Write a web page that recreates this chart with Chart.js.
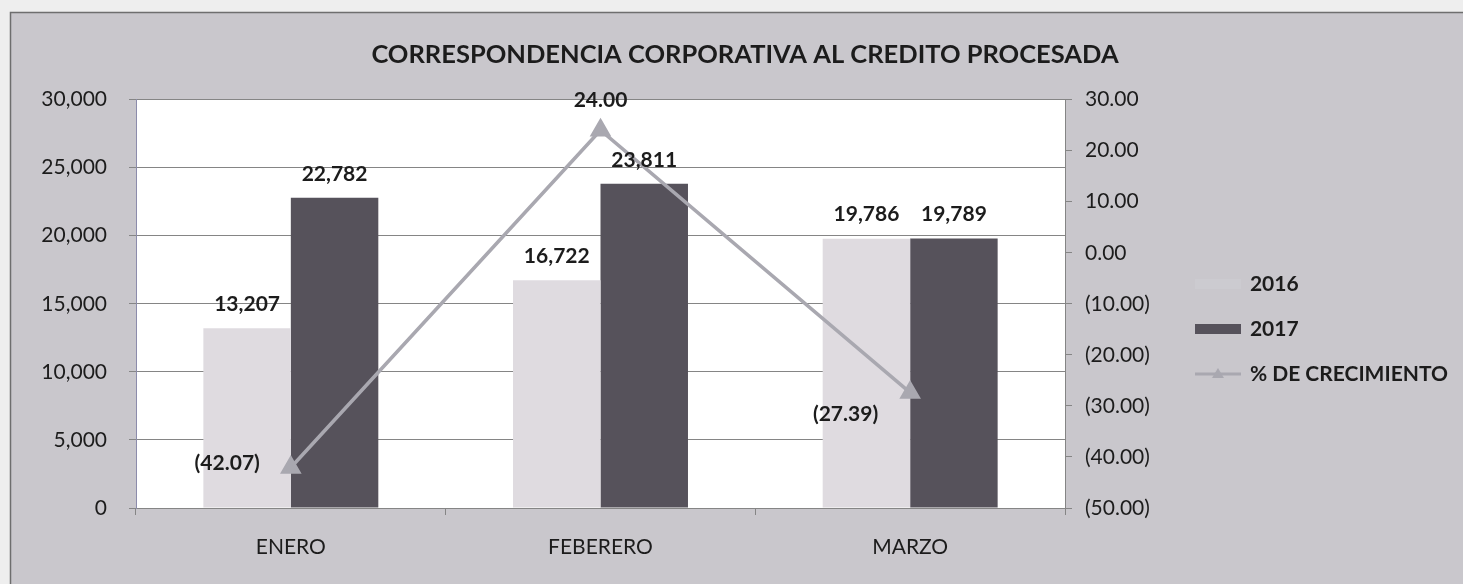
<!DOCTYPE html>
<html>
<head>
<meta charset="utf-8">
<title>Correspondencia corporativa al credito procesada</title>
<script src="https://cdn.jsdelivr.net/npm/chart.js@4.4.1/dist/chart.umd.min.js"></script>
<style>
    html, body { margin: 0; padding: 0; background: #f0f0f0; }
    #chart { display: block; }
</style>
</head>
<body>
<canvas id="chart" width="1463" height="584"></canvas>
<script>
// Chart data
const categories = ['ENERO', 'FEBERERO', 'MARZO'];
const seriesNames = ['2016', '2017', '% DE CRECIMIENTO'];
const values2016 = [13207, 16722, 19786];
const values2017 = [22782, 23811, 19789];
const growthPct = [-42.07, 24.00, -27.39];
const chartTitle = 'CORRESPONDENCIA CORPORATIVA AL CREDITO PROCESADA';

// Colours
const color2016 = '#dfdbe0';
const color2017 = '#56525b';
const colorLine = '#a9a8b0';
const gridColor = '#858585';
const textColor = '#1c1c1c';
const FONT = 'Lato';

// right edge of the plot area (where the % axis sits)
const PLOT_RIGHT = 1065;
const PAD_RIGHT = 5;
const PAD_LEFT = 32;

// where each growth label sits relative to its point
const growthLabelPos = ['left', 'above', 'leftBelow'];

function fmtThousands(v) {
    return Number(v).toLocaleString('en-US');
}

function fmtPct(v) {
    const s = Math.abs(v).toFixed(2);
    return v < 0 ? '(' + s + ')' : s;
}

// Legend swatches drawn on small canvases
function makeSwatch(kind) {
    const c = document.createElement('canvas');
    c.width = 46;
    c.height = 18;
    const g = c.getContext('2d');
    if (kind === 'bar2016') {
        g.fillStyle = 'rgba(222, 218, 226, 0.2)';
        g.fillRect(0, 4, 46, 10);
    } else if (kind === 'bar2017') {
        g.fillStyle = color2017;
        g.fillRect(0, 4, 46, 10);
    } else {
        g.strokeStyle = colorLine;
        g.lineWidth = 3;
        g.beginPath();
        g.moveTo(0, 9);
        g.lineTo(46, 9);
        g.stroke();
        g.fillStyle = colorLine;
        g.beginPath();
        g.moveTo(23, 3);
        g.lineTo(29, 13);
        g.lineTo(17, 13);
        g.closePath();
        g.fill();
    }
    return c;
}

const swatches = [makeSwatch('bar2016'), makeSwatch('bar2017'), makeSwatch('line')];

// Background, frame and white plot area
const backdrop = {
    id: 'backdrop',
    beforeDraw(chart) {
        const { ctx, chartArea } = chart;
        ctx.save();
        ctx.fillStyle = '#eeeeee';
        ctx.fillRect(0, 0, chart.width, chart.height);
        ctx.fillStyle = '#c9c7cc';
        ctx.fillRect(10, 12, chart.width - 10, chart.height - 12);
        ctx.strokeStyle = '#6e6e6e';
        ctx.lineWidth = 1.5;
        ctx.strokeRect(10.5, 12.5, chart.width, chart.height);
        ctx.fillStyle = '#ffffff';
        ctx.fillRect(chartArea.left, chartArea.top, chartArea.width, chartArea.height);
        ctx.restore();
    }
};

// Value labels on bars and line points
const valueLabels = {
    id: 'valueLabels',
    afterDatasetsDraw(chart) {
        const ctx = chart.ctx;
        ctx.save();
        ctx.font = 'bold 21px ' + FONT;
        ctx.fillStyle = textColor;
        ctx.textBaseline = 'middle';

        [0, 1].forEach(di => {
            chart.getDatasetMeta(di).data.forEach((bar, i) => {
                ctx.textAlign = 'center';
                ctx.fillText(fmtThousands(chart.data.datasets[di].data[i]), bar.x, bar.y - 24);
            });
        });

        chart.getDatasetMeta(2).data.forEach((pt, i) => {
            const txt = fmtPct(growthPct[i]);
            const pos = growthLabelPos[i];
            if (pos === 'above') {
                ctx.textAlign = 'center';
                ctx.fillText(txt, pt.x, pt.y - 30);
            } else if (pos === 'leftBelow') {
                ctx.textAlign = 'right';
                ctx.fillText(txt, pt.x - 32, pt.y + 22);
            } else {
                ctx.textAlign = 'right';
                ctx.fillText(txt, pt.x - 31, pt.y - 4);
            }
        });
        ctx.restore();
    }
};

const tickFont = { family: FONT, size: 21 };

function buildChart() {
    new Chart(document.getElementById('chart'), {
        type: 'bar',
        data: {
            labels: categories,
            datasets: [
                {
                    label: seriesNames[0],
                    data: values2016,
                    backgroundColor: color2016,
                    borderWidth: 0,
                    barPercentage: 1,
                    categoryPercentage: 0.565,
                    yAxisID: 'y',
                    order: 1
                },
                {
                    label: seriesNames[1],
                    data: values2017,
                    backgroundColor: color2017,
                    borderWidth: 0,
                    barPercentage: 1,
                    categoryPercentage: 0.565,
                    yAxisID: 'y',
                    order: 1
                },
                {
                    type: 'line',
                    label: seriesNames[2],
                    data: growthPct,
                    yAxisID: 'y1',
                    borderColor: colorLine,
                    backgroundColor: colorLine,
                    borderWidth: 3.5,
                    tension: 0,
                    pointStyle: 'triangle',
                    pointRadius: 9,
                    pointBackgroundColor: colorLine,
                    pointBorderColor: colorLine,
                    order: 0
                }
            ]
        },
        options: {
            responsive: false,
            animation: false,
            layout: {
                padding: { top: 39, left: PAD_LEFT, right: PAD_RIGHT, bottom: 0 }
            },
            scales: {
                x: {
                    grid: {
                        drawOnChartArea: false,
                        tickLength: 7,
                        color: gridColor
                    },
                    border: { color: gridColor },
                    ticks: { color: textColor, font: tickFont, padding: 20 },
                    afterFit: (s) => { s.height = 76; }
                },
                y: {
                    position: 'left',
                    min: 0,
                    max: 30000,
                    ticks: {
                        stepSize: 5000,
                        color: textColor,
                        font: tickFont,
                        padding: 22,
                        callback: (v) => fmtThousands(v)
                    },
                    grid: { color: gridColor, tickLength: 7 },
                    border: { color: '#8c8cab' },
                    afterFit: (s) => { s.width = 136 - PAD_LEFT; }
                },
                y1: {
                    position: 'right',
                    min: -50,
                    max: 30,
                    ticks: {
                        stepSize: 10,
                        color: textColor,
                        font: tickFont,
                        padding: 13,
                        callback: (v) => fmtPct(v)
                    },
                    grid: { drawOnChartArea: false, tickLength: 7, color: gridColor },
                    border: { color: gridColor },
                    afterFit: (s) => {
                        const lg = s.chart.legend;
                        const lw = lg && lg.width ? lg.width : 260;
                        s.width = s.chart.width - PAD_RIGHT - lw - PLOT_RIGHT;
                    }
                }
            },
            plugins: {
                title: {
                    display: true,
                    text: chartTitle,
                    color: textColor,
                    font: { family: FONT, size: 25.5, weight: 'bold', lineHeight: 1.2 },
                    padding: { top: 0, bottom: 30 }
                },
                legend: {
                    position: 'right',
                    align: 'center',
                    maxWidth: 340,
                    title: {
                        display: true,
                        text: '',
                        font: { size: 10, lineHeight: 1 },
                        padding: { top: 25, bottom: 0 }
                    },
                    labels: {
                        usePointStyle: true,
                        pointStyleWidth: 43,
                        color: textColor,
                        font: { family: FONT, size: 21, weight: 'bold' },
                        padding: 24,
                        sort: (a, b) => a.datasetIndex - b.datasetIndex,
                        generateLabels: (chart) => chart.data.datasets.map((ds, i) => ({
                            text: ds.label,
                            datasetIndex: i,
                            pointStyle: swatches[i],
                            fillStyle: 'transparent',
                            strokeStyle: 'transparent',
                            lineWidth: 0,
                            fontColor: textColor,
                            hidden: false
                        }))
                    }
                },
                tooltip: { enabled: false }
            }
        },
        plugins: [backdrop, valueLabels]
    });
}

// make sure the installed fonts are ready before Chart.js measures text
Promise.all([
    document.fonts.load('21px ' + FONT),
    document.fonts.load('bold 21px ' + FONT)
]).then(buildChart, buildChart);
</script>
</body>
</html>
